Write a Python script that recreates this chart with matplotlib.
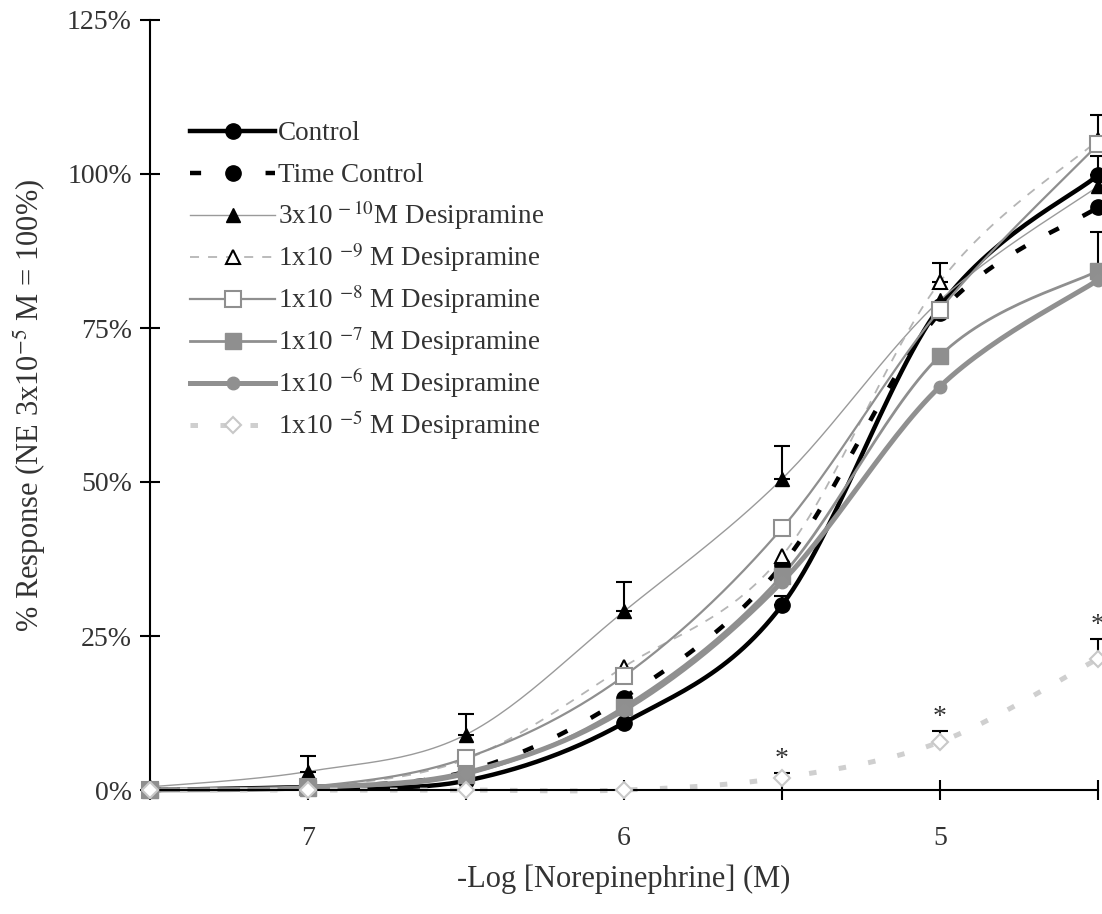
import numpy as np
import matplotlib.pyplot as plt
from matplotlib.lines import Line2D

plt.rcParams['font.family'] = ['Liberation Serif', 'DejaVu Serif']
plt.rcParams['mathtext.fontset'] = 'stix'

# -Log [NE] (M)
log_ne = [7.5, 7.0, 6.5, 6.0, 5.5, 5.0, 4.5]

# % response
control = [0.0, 0.5, 1.5, 10.9, 30.0, 78.5, 99.8]
time_control = [0.0, 0.5, 3.0, 15.0, 36.5, 77.5, 94.6]
dmi_3e10 = [0.5, 3.0, 9.0, 29.0, 50.5, 79.5, 98.0]
dmi_1e9 = [0.3, 0.5, 5.0, 20.0, 38.0, 82.5, 105.5]
dmi_1e8 = [0.0, 0.5, 5.2, 18.5, 42.5, 78.0, 104.8]
dmi_1e7 = [0.0, 0.4, 2.5, 13.5, 34.8, 70.5, 84.3]
dmi_1e6 = [0.0, 0.4, 2.8, 13.0, 33.8, 65.5, 82.8]
dmi_1e5 = [0.0, 0.0, 0.0, 0.0, 2.0, 7.8, 21.3]

# upper SEM
err_control = [0, 0, 0, 0, 1.5, 0, 3.2]
err_time_control = [0, 0, 0, 0, 0, 0, 0]
err_3e10 = [0, 2.5, 3.3, 4.8, 5.3, 0, 0]
err_1e9 = [0, 0, 0, 0, 0, 3.0, 0]
err_1e8 = [0, 0, 0, 0, 0, 0, 4.8]
err_1e7 = [0, 0, 0, 0, 0, 0, 6.3]
err_1e6 = [0, 0, 0, 0, 0, 0, 0]
err_1e5 = [0, 0, 0, 0, 0.8, 1.8, 3.2]
signif_1e5 = [False, False, False, False, True, True, True]

labels = ['Control', 'Time Control',
          '3x10$^{\\,-10}$M Desipramine',
          '1x10 $^{-9}$ M Desipramine',
          '1x10 $^{-8}$ M Desipramine',
          '1x10 $^{-7}$ M Desipramine',
          '1x10 $^{-6}$ M Desipramine',
          '1x10 $^{-5}$ M Desipramine']


def smooth(x, y, n=30):
    # Excel-like smoothed line (Bezier with 1/6 tangents)
    x = np.asarray(x, float)
    y = np.asarray(y, float)
    px = np.concatenate([[x[0]], x, [x[-1]]])
    py = np.concatenate([[y[0]], y, [y[-1]]])
    t = np.linspace(0, 1, n)[:, None]
    xs, ys = [], []
    for i in range(1, len(px) - 2):
        p0 = np.array([px[i], py[i]])
        p3 = np.array([px[i + 1], py[i + 1]])
        c1 = p0 + (p3 - np.array([px[i - 1], py[i - 1]])) / 6
        c2 = p3 - (np.array([px[i + 2], py[i + 2]]) - p0) / 6
        b = (1 - t) ** 3 * p0 + 3 * (1 - t) ** 2 * t * c1 + 3 * (1 - t) * t ** 2 * c2 + t ** 3 * p3
        xs.append(b[:, 0])
        ys.append(b[:, 1])
    return np.concatenate(xs), np.concatenate(ys)


W, H = 1102, 914
fig = plt.figure(figsize=(W / 100, H / 100), dpi=100)
ax = fig.add_axes([150 / W, 124 / H, 948 / W, 770 / H])

styles = [
    dict(color='black', lw=3.2, ls='-', marker='o', ms=11, mfc='black', mec='black'),
    dict(color='black', lw=3.2, ls=(0, (2.5, 6)), marker='o', ms=11, mfc='black', mec='black'),
    dict(color='#9a9a9a', lw=1.0, ls='-', marker='^', ms=10, mfc='black', mec='black'),
    dict(color='#b5b5b5', lw=1.3, ls=(0, (5, 5)), marker='^', ms=10, mfc='white', mec='black', mew=1.5),
    dict(color='#8f8f8f', lw=1.6, ls='-', marker='s', ms=11, mfc='white', mec='#8f8f8f', mew=1.5),
    dict(color='#8f8f8f', lw=2.0, ls='-', marker='s', ms=11, mfc='#8f8f8f', mec='#8f8f8f'),
    dict(color='#909090', lw=3.6, ls='-', marker='o', ms=9, mfc='#909090', mec='#909090'),
    dict(color='#cfcfcf', lw=3.6, ls=(0, (1.5, 4.5)), marker='D', ms=8, mfc='white', mec='#c8c8c8', mew=1.5),
]
series = [control, time_control, dmi_3e10, dmi_1e9, dmi_1e8, dmi_1e7, dmi_1e6, dmi_1e5]
errs = [err_control, err_time_control, err_3e10, err_1e9, err_1e8, err_1e7, err_1e6, err_1e5]

for y, e, st in zip(series, errs, styles):
    sx, sy = smooth(log_ne, y)
    line_kw = {k: v for k, v in st.items() if k in ('color', 'lw', 'ls')}
    ax.plot(sx, sy, clip_on=False, zorder=2, **line_kw)
    mk = {k: v for k, v in st.items() if k in ('marker', 'ms', 'mfc', 'mec', 'mew')}
    ax.plot(log_ne, y, ls='none', clip_on=False, zorder=4, **mk)
    e = np.asarray(e, float)
    has = e > 0
    if has.any():
        ax.errorbar(np.asarray(log_ne)[has], np.asarray(y)[has],
                    yerr=[np.zeros(has.sum()), e[has]], fmt='none',
                    ecolor='black', elinewidth=1.5, capsize=6, capthick=1.5,
                    clip_on=False, zorder=3)

for xv, yv, ev, sig in zip(log_ne, dmi_1e5, err_1e5, signif_1e5):
    if sig:
        ax.text(xv, yv + ev + 0.2, '*', ha='center', va='bottom', fontsize=20, color='#333333')

ax.set_xlim(7.5, 4.5)
ax.set_ylim(0, 125)
ax.set_xticks(log_ne)
ax.set_xticklabels(['', '7', '', '6', '', '5', ''])
ax.set_yticks([0, 25, 50, 75, 100, 125])
ax.set_yticklabels(['0%', '25%', '50%', '75%', '100%', '125%'])
ax.tick_params(axis='both', direction='inout', length=14, width=1.5, colors='black',
               labelcolor='#333333', labelsize=20)
ax.tick_params(axis='x', pad=19)
ax.tick_params(axis='y', pad=6)
for s in ('top', 'right'):
    ax.spines[s].set_visible(False)
for s in ('left', 'bottom'):
    ax.spines[s].set_linewidth(1.5)

ax.set_xlabel('-Log [Norepinephrine] (M)', fontsize=22, color='#333333', labelpad=10)
ax.set_ylabel('% Response (NE 3x10$^{-5}$ M = 100%)', fontsize=22, color='#333333', labelpad=14)

# legend drawn row by row so the spacing stays even
for i, (st, lab) in enumerate(zip(styles, labels)):
    yc = 1 - (131 + 42 * i) / H
    x0, x1 = 190 / W, 275 / W
    line_kw = {k: v for k, v in st.items() if k in ('color', 'lw', 'ls')}
    mk = {k: v for k, v in st.items() if k in ('marker', 'ms', 'mfc', 'mec', 'mew')}
    fig.add_artist(Line2D([x0, x1], [yc, yc], transform=fig.transFigure, **line_kw))
    fig.add_artist(Line2D([(x0 + x1) / 2], [yc], transform=fig.transFigure, ls='none', **mk))
    fig.text(278 / W, yc - 9 / H, lab, va='baseline', ha='left', fontsize=19.5, color='#333333')

fig.savefig('out.png', dpi=100)
